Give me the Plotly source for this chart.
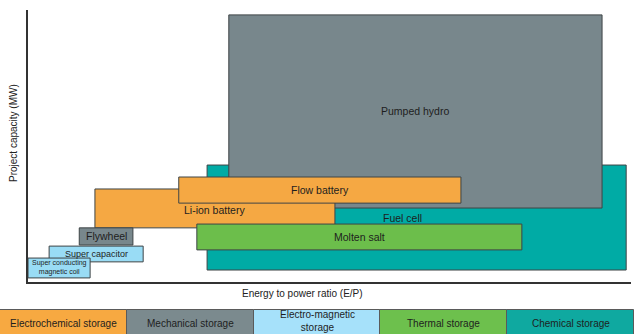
import plotly.graph_objects as go

# Storage technologies: E/P ratio span (x) and project capacity span (y), relative units
technologies = ["Fuel cell", "Pumped hydro", "Li-ion battery", "Flow battery",
                "Molten salt", "Flywheel", "Super capacitor",
                "Super conducting<br>magnetic coil"]
ep_low = [29.7, 33.3, 11.1, 25.0, 28.0, 8.5, 3.5, 0.0]
ep_high = [99.2, 95.2, 50.9, 71.8, 81.9, 17.4, 19.1, 10.3]
mw_low = [4.4, 27.2, 19.9, 29.0, 11.8, 13.6, 7.4, 1.5]
mw_high = [43.0, 98.2, 34.2, 38.6, 21.3, 19.9, 13.2, 8.8]
tech_class = ["Chemical storage", "Mechanical storage", "Electrochemical storage",
              "Electrochemical storage", "Thermal storage", "Mechanical storage",
              "Electro-magnetic storage", "Electro-magnetic storage"]

# Storage classes shown in the key strip
classes = ["Electrochemical storage", "Mechanical storage", "Electro-magnetic storage",
           "Thermal storage", "Chemical storage"]
class_labels = ["Electrochemical storage", "Mechanical storage",
                "Electro-magnetic<br>storage", "Thermal storage", "Chemical storage"]

class_colors = {
    "Electrochemical storage": "#F5A843",
    "Mechanical storage": "#78878C",
    "Electro-magnetic storage": "#99DCF5",
    "Thermal storage": "#6CBE4B",
    "Chemical storage": "#00ABA5",
}
key_colors = {
    "Electrochemical storage": "#F7A941",
    "Mechanical storage": "#7B8A8E",
    "Electro-magnetic storage": "#A6E1FA",
    "Thermal storage": "#6DC04D",
    "Chemical storage": "#0FA9A0",
}

FONT = "Liberation Sans, Arial, sans-serif"
label_size = {"Super conducting<br>magnetic coil": 7, "Super capacitor": 9}
label_shift = {"Fuel cell": (-2.3, 0.0), "Li-ion battery": (0.0, -0.6)}

W, H = 634, 334
fig = go.Figure()

# Technology boxes, back to front
for name, x0, x1, y0, y1, cls in zip(technologies, ep_low, ep_high, mw_low, mw_high, tech_class):
    fig.add_trace(go.Scatter(
        x=[x0, x1, x1, x0, x0], y=[y0, y0, y1, y1, y0],
        mode="lines", fill="toself", fillcolor=class_colors[cls],
        line=dict(color="#3E4446", width=1), hoverinfo="skip", showlegend=False,
        xaxis="x", yaxis="y"))

for name, x0, x1, y0, y1 in zip(technologies, ep_low, ep_high, mw_low, mw_high):
    dx, dy = label_shift.get(name, (0.0, 0.0))
    fig.add_annotation(x=(x0 + x1) / 2 + dx, y=(y0 + y1) / 2 + dy, xref="x", yref="y",
                       text=name, showarrow=False,
                       font=dict(family=FONT, size=label_size.get(name, 10.5), color="#1E1E1E"))

# Key strip along the bottom
fig.add_trace(go.Bar(
    orientation="h", x=[1] * len(classes), base=list(range(len(classes))),
    y=[0.5] * len(classes), width=1,
    marker=dict(color=[key_colors[c] for c in classes], line=dict(color="#5A5A5A", width=1)),
    hoverinfo="skip", showlegend=False, xaxis="x2", yaxis="y2"))
for i, lab in enumerate(class_labels):
    fig.add_annotation(x=i + 0.5, y=0.62 if "<br>" in lab else 0.52, xref="x2", yref="y2",
                       text=lab, showarrow=False,
                       font=dict(family=FONT, size=10, color="#1E1E1E"))

# Arrow tip on the capacity axis
fig.add_annotation(x=0, y=100.5, xref="x", yref="y", ax=0, ay=8, axref="pixel",
                   ayref="pixel", showarrow=True, arrowhead=2, arrowsize=0.5,
                   arrowwidth=2, arrowcolor="#333", text="")

# Axis titles
fig.add_annotation(x=13 / W, y=(H - 133) / H, xref="paper", yref="paper",
                   xanchor="center", yanchor="middle",
                   text="Project capacity (MW)", textangle=-90, showarrow=False,
                   font=dict(family=FONT, size=10, color="#222"))
fig.add_annotation(x=302 / W, y=(H - 293) / H, xref="paper", yref="paper",
                   xanchor="center", yanchor="middle",
                   text="Energy to power ratio (E/P)", showarrow=False,
                   font=dict(family=FONT, size=10, color="#222"))

fig.update_layout(
    width=W, height=H, margin=dict(l=0, r=0, t=0, b=0),
    paper_bgcolor="white", plot_bgcolor="white",
    xaxis=dict(domain=[28 / W, 631 / W], range=[0, 100], showgrid=False, zeroline=False,
               showticklabels=False, ticks="", showline=True, linecolor="#333",
               linewidth=2, anchor="y", fixedrange=True),
    yaxis=dict(domain=[(H - 282) / H, (H - 10) / H], range=[0, 100], showgrid=False,
               zeroline=False, showticklabels=False, ticks="", showline=True,
               linecolor="#333", linewidth=2, anchor="x", fixedrange=True),
    xaxis2=dict(domain=[0, 1], range=[0, 5], visible=False, anchor="y2", fixedrange=True),
    yaxis2=dict(domain=[0, 25 / H], range=[1 - 25 / 30, 1.02], visible=False,
                anchor="x2", fixedrange=True),
    bargap=0,
)

fig.write_html("out.html")
